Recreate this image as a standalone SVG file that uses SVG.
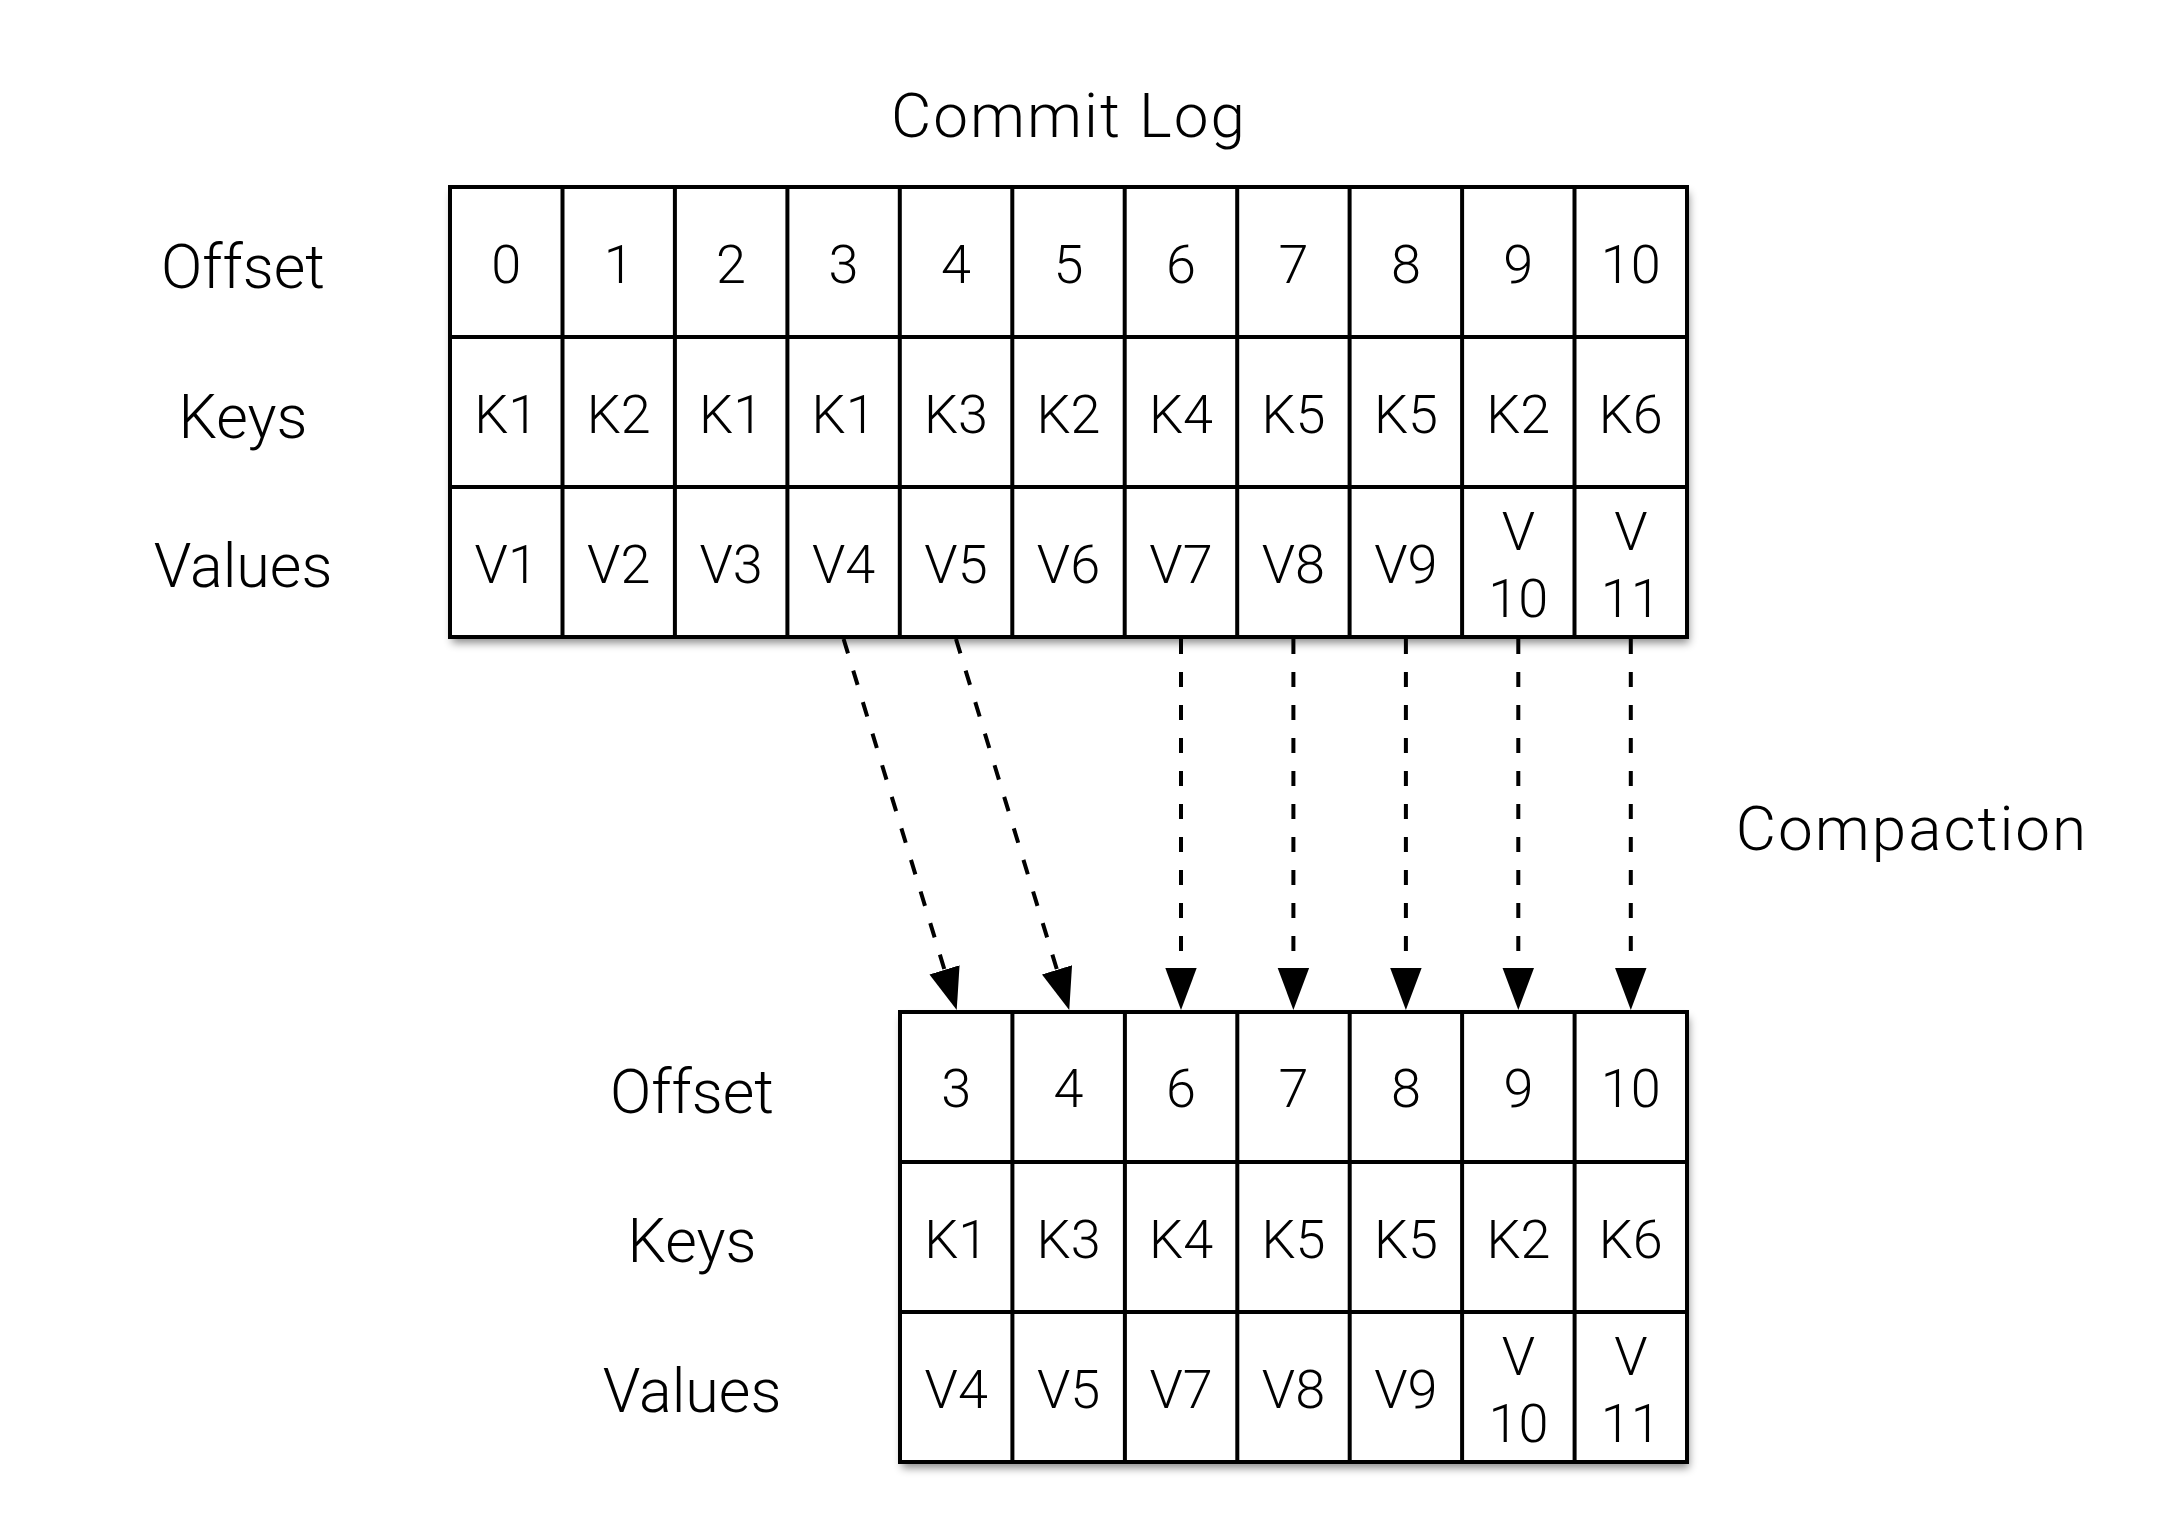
<svg xmlns="http://www.w3.org/2000/svg" width="2174" height="1533" viewBox="0 0 2174 1533">
<style>
text{font-family:Roboto,"Liberation Sans",Arial,sans-serif;font-weight:300;fill:#000;text-anchor:middle}
.lbl{font-size:61px}
.ttl{font-size:62px;letter-spacing:2px}
.cell{font-size:54px}
.grid{stroke:#000;stroke-width:4;fill:none}
.bg{fill:#fff;filter:url(#sh)}
.conn{stroke:#000;stroke-width:4;fill:none;stroke-dasharray:15 18;marker-end:url(#ah)}
</style>
<defs>
<filter id="sh" x="-5%" y="-10%" width="110%" height="125%">
<feDropShadow dx="2" dy="6" stdDeviation="4" flood-color="#000" flood-opacity="0.45"/>
</filter>
<marker id="ah" markerUnits="userSpaceOnUse" markerWidth="44" markerHeight="34" viewBox="0 -16 42 32" refX="0" refY="0" orient="auto">
<path d="M0,-15 L40,0 L0,15 z" fill="#000"/>
</marker>
</defs>
<rect width="2174" height="1533" fill="#fff"/>
<text class="ttl" x="1069" y="137">Commit Log</text>
<text class="ttl" x="1912" y="850">Compaction</text>
<g id="commit-log">
<rect class="bg" x="450" y="187" width="1237" height="450"/>
<rect class="grid" x="450" y="187" width="1237" height="450"/>
<path class="grid" d="M450,337H1687M450,487H1687M562.5,187V637M674.9,187V637M787.4,187V637M899.8,187V637M1012.3,187V637M1124.7,187V637M1237.2,187V637M1349.6,187V637M1462.1,187V637M1574.5,187V637"/>
<text class="lbl" x="243" y="288">Offset</text>
<text class="lbl" x="243" y="438">Keys</text>
<text class="lbl" x="243" y="587">Values</text>
<text class="cell" x="506.2" y="283">0</text><text class="cell" x="618.7" y="283">1</text><text class="cell" x="731.1" y="283">2</text><text class="cell" x="843.6" y="283">3</text><text class="cell" x="956" y="283">4</text><text class="cell" x="1068.5" y="283">5</text><text class="cell" x="1181" y="283">6</text><text class="cell" x="1293.4" y="283">7</text><text class="cell" x="1405.9" y="283">8</text><text class="cell" x="1518.3" y="283">9</text><text class="cell" x="1630.8" y="283">10</text>
<text class="cell" x="506.2" y="433">K1</text><text class="cell" x="618.7" y="433">K2</text><text class="cell" x="731.1" y="433">K1</text><text class="cell" x="843.6" y="433">K1</text><text class="cell" x="956" y="433">K3</text><text class="cell" x="1068.5" y="433">K2</text><text class="cell" x="1181" y="433">K4</text><text class="cell" x="1293.4" y="433">K5</text><text class="cell" x="1405.9" y="433">K5</text><text class="cell" x="1518.3" y="433">K2</text><text class="cell" x="1630.8" y="433">K6</text>
<text class="cell" x="506.2" y="583">V1</text><text class="cell" x="618.7" y="583">V2</text><text class="cell" x="731.1" y="583">V3</text><text class="cell" x="843.6" y="583">V4</text><text class="cell" x="956" y="583">V5</text><text class="cell" x="1068.5" y="583">V6</text><text class="cell" x="1181" y="583">V7</text><text class="cell" x="1293.4" y="583">V8</text><text class="cell" x="1405.9" y="583">V9</text>
<text class="cell" x="1518.3" y="550">V</text><text class="cell" x="1518.3" y="617">10</text>
<text class="cell" x="1630.8" y="550">V</text><text class="cell" x="1630.8" y="617">11</text>
</g>
<g id="compacted-log">
<rect class="bg" x="900" y="1012" width="787" height="450"/>
<rect class="grid" x="900" y="1012" width="787" height="450"/>
<path class="grid" d="M900,1162H1687M900,1312H1687M1012.4,1012V1462M1124.9,1012V1462M1237.3,1012V1462M1349.7,1012V1462M1462.1,1012V1462M1574.6,1012V1462"/>
<text class="lbl" x="692" y="1113">Offset</text>
<text class="lbl" x="692" y="1262">Keys</text>
<text class="lbl" x="692" y="1412">Values</text>
<text class="cell" x="956.2" y="1107">3</text><text class="cell" x="1068.6" y="1107">4</text><text class="cell" x="1181.1" y="1107">6</text><text class="cell" x="1293.5" y="1107">7</text><text class="cell" x="1405.9" y="1107">8</text><text class="cell" x="1518.4" y="1107">9</text><text class="cell" x="1630.8" y="1107">10</text>
<text class="cell" x="956.2" y="1258">K1</text><text class="cell" x="1068.6" y="1258">K3</text><text class="cell" x="1181.1" y="1258">K4</text><text class="cell" x="1293.5" y="1258">K5</text><text class="cell" x="1405.9" y="1258">K5</text><text class="cell" x="1518.4" y="1258">K2</text><text class="cell" x="1630.8" y="1258">K6</text>
<text class="cell" x="956.2" y="1408">V4</text><text class="cell" x="1068.6" y="1408">V5</text><text class="cell" x="1181.1" y="1408">V7</text><text class="cell" x="1293.5" y="1408">V8</text><text class="cell" x="1405.9" y="1408">V9</text>
<text class="cell" x="1518.4" y="1375">V</text><text class="cell" x="1518.4" y="1442">10</text>
<text class="cell" x="1630.8" y="1375">V</text><text class="cell" x="1630.8" y="1442">11</text>
</g>
<g id="connectors">
<line class="conn" x1="843.6" y1="639" x2="944.5" y2="969.8"/>
<line class="conn" x1="956" y1="639" x2="1057" y2="969.8"/>
<line class="conn" x1="1181" y1="639" x2="1181" y2="968"/>
<line class="conn" x1="1293.4" y1="639" x2="1293.4" y2="968"/>
<line class="conn" x1="1405.9" y1="639" x2="1405.9" y2="968"/>
<line class="conn" x1="1518.3" y1="639" x2="1518.3" y2="968"/>
<line class="conn" x1="1630.8" y1="639" x2="1630.8" y2="968"/>
</g>
</svg>
